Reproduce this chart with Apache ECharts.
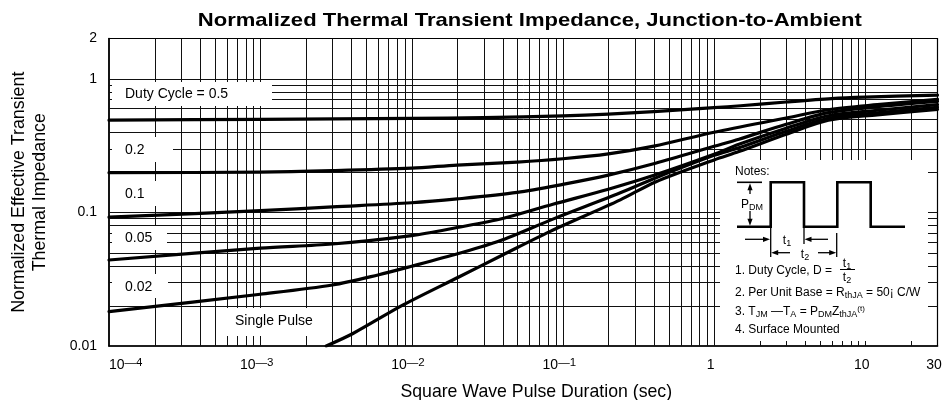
<!DOCTYPE html>
<html>
<head>
<meta charset="utf-8">
<script src="https://cdn.jsdelivr.net/npm/echarts@6/dist/echarts.min.js"></script>
<style>
  html, body { margin: 0; padding: 0; background: #fff; }
  #chart { width: 943px; height: 400px; }
</style>
</head>
<body>
<div id="chart"></div>
<script>
// Square-wave pulse duration (s) and normalized transient impedance, one pair per duty cycle
const tD50 = [1e-4, 1e-3, 1e-2, 3e-2, 0.1, 0.2, 0.4, 1, 1.5, 3, 6, 10, 30];
const zD50 = [0.49, 0.497, 0.505, 0.512, 0.527, 0.543, 0.568, 0.607, 0.628, 0.67, 0.71, 0.728, 0.755];

const tD20 = [1e-4, 1e-3, 3e-3, 1e-2, 2e-2, 5e-2, 0.1, 0.2, 0.4, 1, 3, 5.7, 12, 30];
const zD20 = [0.198, 0.2, 0.205, 0.214, 0.226, 0.238, 0.252, 0.274, 0.313, 0.398, 0.508, 0.586, 0.64, 0.7];

const tD10 = [1e-4, 1e-3, 3e-3, 1e-2, 2e-2, 5e-2, 0.1, 0.2, 0.41, 1, 1.46, 3, 5.7, 12, 30];
const zD10 = [0.092, 0.103, 0.11, 0.118, 0.126, 0.141, 0.162, 0.19, 0.233, 0.312, 0.353, 0.456, 0.557, 0.617, 0.676];

const tD05 = [1e-4, 1e-3, 3e-3, 1e-2, 2e-2, 4e-2, 0.086, 0.2, 0.41, 1, 1.46, 3, 5.7, 12, 30];
const zD05 = [0.044, 0.054, 0.058, 0.067, 0.077, 0.09, 0.115, 0.149, 0.191, 0.272, 0.323, 0.426, 0.528, 0.581, 0.64];

const tD02 = [1e-4, 1e-3, 3e-3, 6e-3, 1e-2, 2.07e-2, 3.8e-2, 0.086, 0.24, 0.41, 1, 1.46, 3, 5.7, 12, 30];
const zD02 = [0.0181, 0.0244, 0.0286, 0.034, 0.0395, 0.0494, 0.061, 0.089, 0.14, 0.181, 0.267, 0.304, 0.404, 0.506, 0.556, 0.612];

const tSingle = [2.73e-3, 4.1e-3, 8.8e-3, 2.07e-2, 4e-2, 8.2e-2, 0.24, 0.41, 1, 1.46, 3, 5.7, 12, 30];
const zSingle = [0.01, 0.0124, 0.0203, 0.033, 0.048, 0.0718, 0.124, 0.169, 0.247, 0.285, 0.384, 0.489, 0.537, 0.59];

// Axis ranges and grid-line decades
const xMin = 1e-4, xMax = 30;
const yMin = 0.01, yMax = 2;
const xDecades = [1e-4, 1e-3, 1e-2, 1e-1, 1, 10];
const yDecades = [0.01, 0.1];
const mantissas = [1, 2, 3, 4, 5, 6, 7, 8, 9];

const FONT = '"Liberation Sans", Arial, Helvetica, sans-serif';

// every 1..9 x decade line strictly inside the plot frame
const xGrid = [];
xDecades.forEach(d => mantissas.forEach(m => {
  const v = +(m * d).toPrecision(3);
  if (v > xMin && v < xMax) xGrid.push(v);
}));
const yGrid = [];
yDecades.forEach(d => mantissas.forEach(m => {
  const v = +(m * d).toPrecision(3);
  if (v > yMin) yGrid.push(v);
}));
yGrid.push(1);

const curves = [
  { name: 'D = 0.5', t: tD50, z: zD50 },
  { name: 'D = 0.2', t: tD20, z: zD20 },
  { name: 'D = 0.1', t: tD10, z: zD10 },
  { name: 'D = 0.05', t: tD05, z: zD05 },
  { name: 'D = 0.02', t: tD02, z: zD02 },
  { name: 'Single Pulse', t: tSingle, z: zSingle }
];

function gridLineSeries(values, vertical) {
  return {
    type: 'custom',
    silent: true,
    z: 1,
    animation: false,
    data: values.map(v => vertical ? [v, yMin] : [xMin, v]),
    renderItem(params, api) {
      const p = api.coord([api.value(0), api.value(1)]);
      const cs = params.coordSys;
      if (vertical) {
        const x = Math.round(p[0]) + 0.5;
        return { type: 'line', shape: { x1: x, y1: cs.y, x2: x, y2: cs.y + cs.height },
                 style: { stroke: '#111', lineWidth: 1 } };
      }
      const y = Math.round(p[1]) + 0.5;
      return { type: 'line', shape: { x1: cs.x, y1: y, x2: cs.x + cs.width, y2: y },
               style: { stroke: '#111', lineWidth: 1 } };
    }
  };
}

function xLabel(v) {
  const e = Math.round(Math.log10(v));
  if (v < 1 && Math.abs(v / Math.pow(10, e) - 1) < 1e-6) {
    return '{a|10}{b|\u2014' + (-e) + '}';
  }
  return '{a|' + (+v.toPrecision(3)) + '}';
}

// white label plates that sit over the grid
function plate(x, y, w, h, text, tx, ty) {
  return [
    { type: 'rect', z: 50, silent: true, shape: { x: x, y: y, width: w, height: h }, style: { fill: '#fff' } },
    { type: 'text', z: 51, silent: true, x: tx, y: ty,
      style: { text: text, font: '14px ' + FONT, fill: '#000', verticalAlign: 'middle', align: 'left' } }
  ];
}

const noteRich = {
  sub: { fontSize: 9, lineHeight: 10, fontFamily: FONT, padding: [6, 0, 0, 0], verticalAlign: 'middle' },
  sup: { fontSize: 8, lineHeight: 10, fontFamily: FONT, padding: [0, 0, 7, 0], verticalAlign: 'middle' }
};

function noteText(x, y, text, align) {
  return { type: 'text', z: 61, silent: true, x: x, y: y,
    style: { text: text, fontSize: 12, fontFamily: FONT, lineHeight: 14, fill: '#000',
             verticalAlign: 'middle', align: align || 'left', rich: noteRich } };
}
function seg(x1, y1, x2, y2, w) {
  return { type: 'line', z: 61, silent: true, shape: { x1, y1, x2, y2 },
           style: { stroke: '#000', lineWidth: w || 1.3 } };
}
function head(tipX, tipY, dir) {
  // small filled arrow head; dir: 'l', 'r', 'u', 'd'
  const L = 7, W = 2.6;
  let pts;
  if (dir === 'r') pts = [[tipX, tipY], [tipX - L, tipY - W], [tipX - L, tipY + W]];
  if (dir === 'l') pts = [[tipX, tipY], [tipX + L, tipY - W], [tipX + L, tipY + W]];
  if (dir === 'u') pts = [[tipX, tipY], [tipX - W, tipY + L], [tipX + W, tipY + L]];
  if (dir === 'd') pts = [[tipX, tipY], [tipX - W, tipY - L], [tipX + W, tipY - L]];
  return { type: 'polygon', z: 61, silent: true, shape: { points: pts }, style: { fill: '#000' } };
}

const lowY = 226.7, highY = 182.3;
const notes = [
  { type: 'rect', z: 60, silent: true, shape: { x: 720, y: 160, width: 208, height: 181 }, style: { fill: '#fff' } },
  noteText(735, 172, 'Notes:'),
  // pulse train
  { type: 'polyline', z: 61, silent: true,
    shape: { points: [[737, lowY], [770.7, lowY], [770.7, highY], [804, highY], [804, lowY], [837.3, lowY],
                      [837.3, highY], [870.7, highY], [870.7, lowY], [905, lowY]] },
    style: { stroke: '#000', lineWidth: 2.6, fill: null, lineJoin: 'miter' } },
  // P_DM amplitude marker
  seg(737, highY, 762, highY, 1.6),
  seg(750, 188, 750, 194), head(750, highY + 1, 'u'),
  seg(750, 211, 750, lowY - 5), head(750, lowY - 1, 'd'),
  noteText(752, 205, 'P{sub|DM}', 'center'),
  // t1 and t2 dimension marks
  seg(770.7, lowY, 770.7, 257), seg(804, lowY, 804, 244), seg(836.7, 233, 836.7, 257),
  seg(745, 239.3, 764, 239.3), head(770, 239.3, 'r'),
  seg(811, 239.3, 828, 239.3), head(804.5, 239.3, 'l'),
  noteText(787, 241, 't{sub|1}', 'center'),
  seg(777, 252.7, 790, 252.7), head(771.2, 252.7, 'l'),
  seg(818, 252.7, 830, 252.7), head(836.2, 252.7, 'r'),
  noteText(805, 254.5, 't{sub|2}', 'center'),
  // notes text
  noteText(735, 271, '1. Duty Cycle, D ='),
  noteText(847, 263.5, 't{sub|1}', 'center'),
  seg(840, 269.5, 855, 269.5, 1),
  noteText(847, 277.5, 't{sub|2}', 'center'),
  noteText(735, 293, '2. Per Unit Base = R{sub|thJA} = 50\u00a1 C/W'),
  noteText(735, 312, '3. T{sub|JM} \u2014T{sub|A} = P{sub|DM}Z{sub|thJA}{sup|(t)}'),
  noteText(735, 329.5, '4. Surface Mounted')
];

// chart heading, drawn wide as in the data sheet
const heading = {
  type: 'text', z: 70, silent: true, x: 529.8, y: 21, scaleX: 1.186,
  style: { text: 'Normalized Thermal Transient Impedance, Junction-to-Ambient',
           font: 'bold 18.6px ' + FONT, fill: '#000', align: 'center', verticalAlign: 'middle' }
};

const graphics = [].concat(
  [heading],
  plate(112, 82, 160, 24, 'Duty Cycle = 0.5', 125, 94.5),
  plate(112, 137, 61, 25, '0.2', 125, 150),
  plate(112, 181, 58, 25, '0.1', 125, 194),
  plate(112, 226, 55, 24, '0.05', 125, 238),
  plate(112, 274, 56, 24, '0.02', 125, 287.5),
  plate(222, 308, 96, 28, 'Single Pulse', 235, 321.5),
  notes
);

const chart = echarts.init(document.getElementById('chart'), null, { renderer: 'canvas' });
chart.setOption({
  animation: false,
  backgroundColor: '#fff',
  textStyle: { fontFamily: FONT },
  grid: {
    left: 109, right: 5.5, top: 38.5, bottom: 54,
    outerBoundsMode: 'none', containLabel: false,
    show: true, borderColor: '#000', borderWidth: 1.2, backgroundColor: 'transparent'
  },
  xAxis: {
    type: 'log', logBase: 10, min: xMin, max: xMax,
    name: 'Square Wave Pulse Duration (sec)', nameLocation: 'middle', nameGap: 37,
    nameTextStyle: { fontSize: 17.7, color: '#000', fontFamily: FONT, padding: [0, 0, 0, 26] },
    axisLine: { show: true, lineStyle: { color: '#000', width: 1.6 } },
    axisTick: { show: false },
    splitLine: { show: false },
    axisLabel: {
      color: '#000', margin: 11, formatter: xLabel, alignMinLabel: 'left',
      showMinLabel: true, showMaxLabel: true, padding: [0, 7, 0, 0],
      rich: {
        a: { fontSize: 14, lineHeight: 16, fontFamily: FONT, color: '#000', verticalAlign: 'middle' },
        b: { fontSize: 11.5, lineHeight: 12, fontFamily: FONT, color: '#000', padding: [0, 0, 4, 0], verticalAlign: 'middle' }
      }
    }
  },
  yAxis: {
    type: 'log', logBase: 10, min: yMin, max: yMax,
    name: 'Normalized Effective Transient\nThermal Impedance', nameLocation: 'middle', nameGap: 58, nameRotate: 90,
    nameTextStyle: { fontSize: 17.8, lineHeight: 21, color: '#000', fontFamily: FONT },
    axisLine: { show: true, lineStyle: { color: '#000', width: 1.6 } },
    axisTick: { show: false },
    splitLine: { show: false },
    axisLabel: {
      color: '#000', fontSize: 14, margin: 12, fontFamily: FONT,
      showMinLabel: true, showMaxLabel: true,
      verticalAlignMinLabel: 'middle', verticalAlignMaxLabel: 'middle',
      formatter: v => String(+v.toPrecision(3))
    }
  },
  series: [gridLineSeries(xGrid, true), gridLineSeries(yGrid, false)].concat(curves.map(c => ({
    type: 'line',
    name: c.name,
    data: c.t.map((t, i) => [t, c.z[i]]),
    smooth: 0.3,
    symbol: 'none',
    showSymbol: false,
    clip: true,
    silent: true,
    z: 5,
    lineStyle: { color: '#000', width: 3.2, cap: 'round', join: 'round' }
  }))),
  graphic: { elements: graphics }
});
</script>
</body>
</html>
